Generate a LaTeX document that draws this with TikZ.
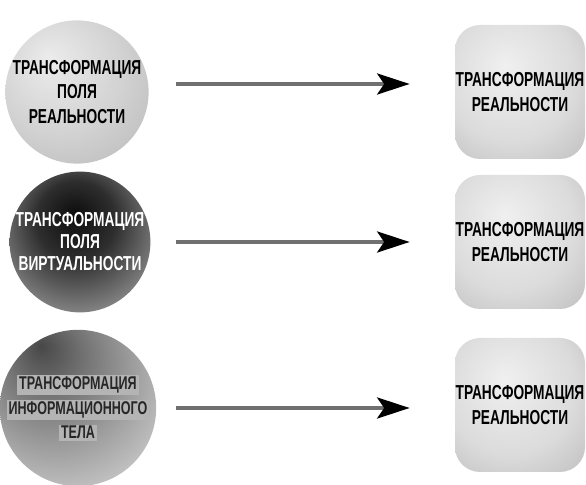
\documentclass[tikz,border=0pt]{standalone}
\usepackage{fontspec}
\setmainfont{Liberation Sans}[FakeStretch=0.68]
\usetikzlibrary{arrows.meta}
\definecolor{arrowgray}{HTML}{707070}
\definecolor{stripgray}{HTML}{b4b4b4}

\newcommand{\striptext}[1]{{\setlength{\fboxsep}{1pt}\colorbox{stripgray}{#1}}}

\pgfdeclareradialshading{lightball}{\pgfpoint{-10bp}{12bp}}{color(0bp)=(gray!15); color(22bp)=(gray!35); color(45bp)=(gray!60); color(60bp)=(gray!70)}
\pgfdeclareradialshading{darkball}{\pgfpoint{-2bp}{10bp}}{color(0bp)=(black!95); color(14bp)=(black!82); color(38bp)=(gray!65); color(60bp)=(gray!42)}
\pgfdeclareradialshading{spotball}{\pgfpoint{-12bp}{20bp}}{color(0bp)=(black!72); color(12bp)=(black!55); color(36bp)=(gray!50); color(70bp)=(gray!22)}
\pgfdeclareradialshading{softbox}{\pgfpoint{-6bp}{10bp}}{color(0bp)=(gray!12); color(25bp)=(gray!28); color(45bp)=(gray!55); color(70bp)=(gray!70)}

\tikzset{
  fieldball/.style={circle, inner sep=0pt, align=center, font=\bfseries\fontsize{11.5}{14}\selectfont},
  realbox/.style={rectangle, rounded corners=0.5cm, minimum width=2.6cm, minimum height=2.68cm, inner sep=0pt, align=center, shading=softbox, font=\bfseries\fontsize{11.5}{14}\selectfont},
  flowarrow/.style={draw=arrowgray, line width=2.2pt, shorten >=0.9cm, -{Stealth[length=0.65cm, width=0.42cm, inset=0.14cm, color=black]}}
}

\begin{document}
\begin{tikzpicture}
\useasboundingbox (0,0) rectangle (11.72,9.7);
% fields on the left
\node[fieldball, minimum size=2.62cm, shading=lightball] (field1) at (1.54,7.86) {ТРАНСФОРМАЦИЯ\\ПОЛЯ\\РЕАЛЬНОСТИ};
\node[fieldball, minimum size=2.74cm, shading=darkball, text=white, font=\bfseries\fontsize{11.5}{12.5}\selectfont] (field2) at (1.6,4.86) {ТРАНСФОРМАЦИЯ\\ПОЛЯ\\ВИРТУАЛЬНОСТИ};
\node[fieldball, minimum size=2.76cm, shading=spotball, text=black!85, font=\bfseries\fontsize{10.5}{14}\selectfont] (field3) at (1.56,1.54) {\striptext{ТРАНСФОРМАЦИЯ}\\\striptext{ИНФОРМАЦИОННОГО}\\\striptext{ТЕЛА}};
% results on the right
\node[realbox] (real1) at (10.4,7.86) {ТРАНСФОРМАЦИЯ\\РЕАЛЬНОСТИ};
\node[realbox] (real2) at (10.4,4.86) {ТРАНСФОРМАЦИЯ\\РЕАЛЬНОСТИ};
\node[realbox] (real3) at (10.4,1.6) {ТРАНСФОРМАЦИЯ\\РЕАЛЬНОСТИ};
% arrows
\draw[flowarrow, shorten <=0.55cm] ([yshift=0.16cm]field1.east) -- ([yshift=0.16cm]real1.west);
\draw[flowarrow, shorten <=0.5cm] (field2.east) -- (real2.west);
\draw[flowarrow, shorten <=0.38cm] (field3.east) -- (real3.west |- field3.east);
\end{tikzpicture}
\end{document}
